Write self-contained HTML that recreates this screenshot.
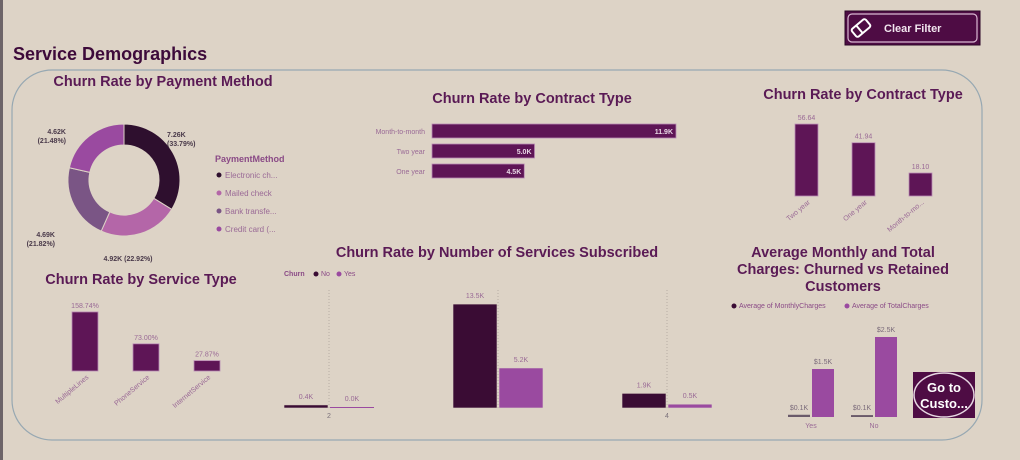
<!DOCTYPE html>
<html><head><meta charset="utf-8"><style>
body{margin:0;width:1020px;height:460px;background:#ddd3c6;font-family:"Liberation Sans",sans-serif;overflow:hidden;position:relative}
svg{position:absolute;left:0;top:0}
</style></head><body>
<svg id="s" width="1020" height="460">
<rect x="0" y="0" width="3" height="460" fill="#6d6468"/>
<text x="13" y="60" font-size="18" font-weight="bold" fill="#3d0a3a">Service Demographics</text>
<rect x="12" y="70" width="970" height="370" rx="40" fill="none" stroke="#97a8b2" stroke-width="1.2"/>
<g>
<rect x="845" y="11" width="135" height="34" fill="#4e0c44" stroke="#2a0626"/>
<rect x="848" y="14" width="129" height="28" rx="4" fill="none" stroke="#d9b8d2" stroke-width="1.2"/>
<g transform="translate(861,28) rotate(-40)"><rect x="-9" y="-5" width="18" height="10" rx="2" fill="none" stroke="#fff" stroke-width="2"/><line x1="-2" y1="-5" x2="-2" y2="5" stroke="#fff" stroke-width="2"/></g>
<text x="884" y="32" font-size="11" font-weight="bold" fill="#f2e6ef">Clear Filter</text>
</g>
<g font-size="14.5" font-weight="bold" fill="#5a1a55" text-anchor="middle">
<text x="163" y="86">Churn Rate by Payment Method</text>
<text x="532" y="103">Churn Rate by Contract Type</text>
<text x="863" y="99">Churn Rate by Contract Type</text>
<text x="141" y="284">Churn Rate by Service Type</text>
<text x="497" y="257">Churn Rate by Number of Services Subscribed</text>
</g>
<g font-size="14.5" font-weight="bold" fill="#5a1a55" text-anchor="middle">
<text x="843" y="257">Average Monthly and Total</text><text x="843" y="274">Charges: Churned vs Retained</text><text x="843" y="291">Customers</text></g>
<text x="215" y="162" font-size="9" font-weight="bold" fill="#8a4a86">PaymentMethod</text>
<g id="donut"></g><g id="c1"></g><g id="c2"></g><g id="c3"></g><g id="c4"></g><g id="c5"></g>
<g font-size="7" fill="#8a4a86"><text x="284" y="276" font-weight="bold">Churn</text><circle cx="316" cy="274" r="2.5" fill="#3a0c34"/><text x="321" y="276">No</text><circle cx="339" cy="274" r="2.5" fill="#9a4aa0"/><text x="344" y="276">Yes</text></g>
<g font-size="7" fill="#8a4a86"><circle cx="734" cy="306" r="2.5" fill="#3a0c34"/><text x="739" y="308">Average of MonthlyCharges</text><circle cx="847" cy="306" r="2.5" fill="#9a4aa0"/><text x="852" y="308">Average of TotalCharges</text></g>
<g>
<rect x="913" y="372" width="62" height="46" fill="#4e0c44"/>
<ellipse cx="944" cy="395" rx="30" ry="22" fill="none" stroke="#e6d6e2" stroke-width="1.5"/>
<text x="944" y="392" text-anchor="middle" font-size="13" font-weight="bold" fill="#fff">Go to</text>
<text x="944" y="408" text-anchor="middle" font-size="13" font-weight="bold" fill="#fff">Custo...</text>
</g>
</svg>
<script>
const payNames=["Electronic ch...","Mailed check","Bank transfe...","Credit card (..."];
const payValues=[7.26,4.92,4.69,4.62];
const payLabels=["7.26K\n(33.79%)","4.92K (22.92%)","4.69K\n(21.82%)","4.62K\n(21.48%)"];
const contractCats=["Month-to-month","Two year","One year"];
const contractValues=[11.9,5.0,4.5];
const contractRateCats=["Two year","One year","Month-to-mo..."];
const contractRateValues=[56.64,41.94,18.10];
const serviceCats=["MultipleLines","PhoneService","InternetService"];
const serviceValues=[158.74,73.00,27.87];
const numServCats=["2","3","4"];
const numServNo=[0.4,13.5,1.9];
const numServYes=[0.0,5.2,0.5];
const chargeCats=["Yes","No"];
const chargeMonthly=[0.07,0.06];
const chargeTotal=[1.5,2.5];
const chargeMonthlyLbl=["$0.1K","$0.1K"];
const chargeTotalLbl=["$1.5K","$2.5K"];

const NS="http://www.w3.org/2000/svg";
function mk(p,t,a,txt){const e=document.createElementNS(NS,t);for(const k in a)e.setAttribute(k,a[k]);if(txt!==undefined)e.textContent=txt;p.appendChild(e);return e;}
const dark="#5e1556",lab="#9a6a96";
const dg=document.getElementById('donut');
const cols=["#2e0f2e","#b466a8","#7a5585","#9a4aa0"];
const cx=124,cy=180,R=56,r=35;const tot=payValues.reduce((a,b)=>a+b,0);let a0=-Math.PI/2;
const lpos=[[167,137,"start"],[128,261,"middle"],[55,237,"end"],[66,134,"end"]];
payValues.forEach((v,i)=>{const a1=a0+v/tot*2*Math.PI;const p=(a,rr)=>[cx+rr*Math.cos(a),cy+rr*Math.sin(a)];const l=a1-a0>Math.PI?1:0;
const [x0,y0]=p(a0,R),[x1,y1]=p(a1,R),[x2,y2]=p(a1,r),[x3,y3]=p(a0,r);
const s=mk(dg,'path',{d:`M${x0},${y0}A${R},${R} 0 ${l} 1 ${x1},${y1}L${x2},${y2}A${r},${r} 0 ${l} 0 ${x3},${y3}Z`,fill:cols[i],stroke:"#ddd3c6","stroke-width":1});


const lines=payLabels[i].split("\n");lines.forEach((t,j)=>{const e=mk(dg,'text',{x:lpos[i][0],y:lpos[i][1]+j*9,"font-size":7,"font-weight":"bold",fill:"#4a3a4a","text-anchor":lpos[i][2]},t);

});
const d=mk(dg,'circle',{cx:219,cy:175+i*18,r:2.5,fill:cols[i]});


const lt=mk(dg,'text',{x:225,y:178+i*18,"font-size":8,fill:lab},payNames[i]);


a0=a1;});
const g1=document.getElementById('c1');const xs=v=>v*244/11.9;
contractCats.forEach((c,i)=>{const y=124+i*20;
const b=mk(g1,'rect',{x:432,y:y,width:xs(contractValues[i]),height:14,fill:dark,stroke:"#b98ab4","stroke-width":0.8});


const t=mk(g1,'text',{x:425,y:y+10,"font-size":7,fill:lab,"text-anchor":"end"},c);


const v=mk(g1,'text',{x:432+xs(contractValues[i])-3,y:y+10,"font-size":7,"font-weight":"bold",fill:"#e8d8e6","text-anchor":"end"},contractValues[i].toFixed(1)+"K");

});
function cols2(gid,cats,vals,x0,step,w,base,sc,fmt){const g=document.getElementById(gid);
cats.forEach((c,i)=>{const h=vals[i]*sc,x=x0+i*step;
const b=mk(g,'rect',{x:x,y:base-h,width:w,height:h,fill:dark,stroke:"#b98ab4","stroke-width":0.8});


const v=mk(g,'text',{x:x+w/2,y:base-h-4,"font-size":7,fill:lab,"text-anchor":"middle"},fmt(vals[i]));


const t=mk(g,'text',{x:x+w/2+4,y:base+7,"font-size":7,fill:lab,"text-anchor":"end",transform:`rotate(-40 ${x+w/2+4} ${base+7})`},c);

});}
cols2('c2',contractRateCats,contractRateValues,795,57,23,196,1.27,v=>v.toFixed(2));
cols2('c3',serviceCats,serviceValues,72,61,26,371,0.372,v=>v.toFixed(2)+"%");
const g4=document.getElementById('c4');const base4=408,sc4=7.7;
numServCats.forEach((c,i)=>{const cx=329+i*169;
const gl=mk(g4,'line',{x1:cx,y1:290,x2:cx,y2:base4,stroke:"#b8aea4","stroke-dasharray":"1,2"});


if(i!==1){const t=mk(g4,'text',{x:cx,y:base4+10,"font-size":7,fill:"#7a707a","text-anchor":"middle"},c);

}
[[numServNo,"#3a0c34",-45],[numServYes,"#9a4aa0",1]].forEach(([arr,col,off])=>{const h=Math.max(arr[i]*sc4,1);
const b=mk(g4,'rect',{x:cx+off,y:base4-h,width:44,height:h,fill:col,stroke:arr[i]>0?"#ddd3c6":"none","stroke-width":0.6});


const v=mk(g4,'text',{x:cx+off+22,y:base4-h-6,"font-size":7,fill:lab,"text-anchor":"middle"},arr[i].toFixed(1)+"K");

});});
const g5=document.getElementById('c5');const base5=417,sc5=32;
chargeCats.forEach((c,i)=>{const x=788+i*63;
[[chargeMonthly,"#6a5a6a",0,chargeMonthlyLbl],[chargeTotal,"#9a4aa0",24,chargeTotalLbl]].forEach(([arr,col,off,lb])=>{const h=Math.max(arr[i]*sc5,1.5);
const b=mk(g5,'rect',{x:x+off,y:base5-h,width:22,height:h,fill:col});


const v=mk(g5,'text',{x:x+off+11,y:base5-h-5,"font-size":7,fill:"#7a6a7a","text-anchor":"middle"},lb[i]);

});
const t=mk(g5,'text',{x:x+23,y:base5+11,"font-size":7,fill:lab,"text-anchor":"middle"},c);

});
</script>
</body></html>
